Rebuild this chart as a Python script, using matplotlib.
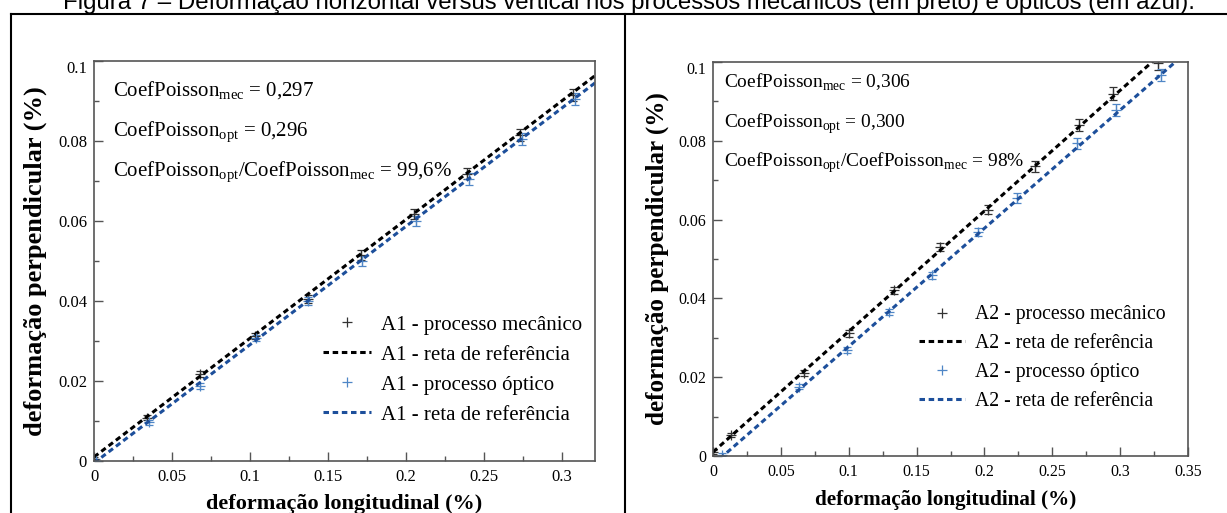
import numpy as np
import matplotlib
matplotlib.use("Agg")
from matplotlib import pyplot as plt, ticker
from matplotlib.lines import Line2D

plt.rcParams['font.family'] = ['Liberation Serif', 'DejaVu Serif']
plt.rcParams['mathtext.fontset'] = 'custom'
plt.rcParams['mathtext.rm'] = 'Liberation Serif'

caption = ("Figura 7 \u2013 Deformação horizontal versus vertical nos processos "
           "mecânicos (em preto) e ópticos (em azul).")

# painel A1
a1_mec_x = [0.0, 0.034, 0.068, 0.103, 0.137, 0.171, 0.205, 0.239, 0.273, 0.307]
a1_mec_y = [0.0005, 0.0108, 0.0218, 0.0312, 0.0405, 0.0515, 0.0618, 0.0718, 0.0815, 0.0915]
a1_mec_e = [0.0004, 0.0006, 0.0007, 0.0008, 0.0009, 0.0012, 0.0013, 0.0014, 0.0015, 0.0016]
a1_opt_x = [0.001, 0.035, 0.068, 0.104, 0.137, 0.172, 0.206, 0.240, 0.274, 0.308]
a1_opt_y = [0.0, 0.0097, 0.0187, 0.0308, 0.0400, 0.0500, 0.0600, 0.0705, 0.0805, 0.0905]
a1_opt_e = [0.0004, 0.0006, 0.0007, 0.0008, 0.0009, 0.0012, 0.0013, 0.0014, 0.0015, 0.0016]
a1_fit_mec = (0.297, 0.0010)
a1_fit_opt = (0.296, -0.0005)
a1_text = [r"CoefPoisson$_{\rm mec}$ = 0,297",
           r"CoefPoisson$_{\rm opt}$ = 0,296",
           r"CoefPoisson$_{\rm opt}$/CoefPoisson$_{\rm mec}$ = 99,6%"]
a1_labels = ["A1 - processo mecânico", "A1 - reta de referência",
             "A1 - processo óptico", "A1 - reta de referência"]

# painel A2
a2_mec_x = [0.0, 0.013, 0.067, 0.100, 0.133, 0.167, 0.2025, 0.2375, 0.270, 0.295, 0.328]
a2_mec_y = [0.001, 0.0053, 0.0211, 0.0311, 0.0421, 0.0530, 0.0625, 0.0735, 0.0840, 0.0920, 0.0997]
a2_mec_e = [0.0004, 0.0005, 0.0007, 0.0008, 0.0009, 0.0010, 0.0012, 0.0013, 0.0015, 0.0016, 0.0017]
a2_opt_x = [0.0068, 0.063, 0.0985, 0.130, 0.161, 0.195, 0.224, 0.268, 0.297, 0.330]
a2_opt_y = [0.0003, 0.0176, 0.0269, 0.0366, 0.0459, 0.0569, 0.0655, 0.0794, 0.0878, 0.0967]
a2_opt_e = [0.0004, 0.0006, 0.0007, 0.0008, 0.0009, 0.0010, 0.0012, 0.0014, 0.0015, 0.0016]
a2_fit_mec = (0.306, 0.0010)
a2_fit_opt = (0.300, -0.0022)
a2_text = [r"CoefPoisson$_{\rm mec}$ = 0,306",
           r"CoefPoisson$_{\rm opt}$ = 0,300",
           r"CoefPoisson$_{\rm opt}$/CoefPoisson$_{\rm mec}$ = 98%"]
a2_labels = ["A2 - processo mecânico", "A2 - reta de referência",
             "A2 - processo óptico", "A2 - reta de referência"]

BLACK_PT = '#333333'
BLUE_LINE = '#1d4f9b'
BLUE_PT = '#4f86c6'
SPINE = '#555555'

W, H = 1227, 513


def panel(rect, xmax, mx, my, me, ox, oy, oe, fit_m, fit_o, texts, labels,
          s, text_s, text_y, text_x, leg_xy, ylab_x, xlab_y, xlab_x):
    ax = fig.add_axes(rect)
    ax.errorbar(mx, my, yerr=me, fmt='none', ecolor=BLACK_PT, elinewidth=0.9,
                capsize=3.2, capthick=0.9)
    ax.errorbar(ox, oy, yerr=oe, fmt='none', ecolor=BLUE_PT, elinewidth=0.9,
                capsize=3.2, capthick=0.9)
    xs = np.array([0.0, xmax])
    ax.plot(mx, my, '+', color=BLACK_PT, ms=7, mew=0.9, label=labels[0])
    ax.plot(xs, fit_m[0] * xs + fit_m[1], color='black', lw=2.2,
            ls=(0, (1.8, 1.2)), label=labels[1])
    ax.plot(ox, oy, '+', color=BLUE_PT, ms=7, mew=0.9, label=labels[2])
    ax.plot(xs, fit_o[0] * xs + fit_o[1], color=BLUE_LINE, lw=2.2,
            ls=(0, (1.8, 1.2)), label=labels[3])

    ax.set_xlim(0, xmax)
    ax.set_ylim(0, 0.1)
    ax.set_xticks(np.arange(0, xmax + 1e-9, 0.05))
    ax.set_yticks(np.arange(0, 0.1001, 0.02))
    ax.xaxis.set_minor_locator(ticker.MultipleLocator(0.025))
    ax.yaxis.set_minor_locator(ticker.MultipleLocator(0.01))
    fmt = ticker.FuncFormatter(lambda v, p: '%g' % round(v, 4))
    ax.xaxis.set_major_formatter(fmt)
    ax.yaxis.set_major_formatter(fmt)
    ax.tick_params(which='both', direction='in', color=SPINE, width=1.0,
                   labelsize=12 * s, top=False, right=False)
    ax.tick_params(which='major', length=6.5)
    ax.tick_params(which='minor', length=3.6)
    ax.tick_params(axis='x', pad=6)
    ax.tick_params(axis='y', pad=5)
    ax.yaxis.get_major_ticks()[-1].label1.set_va('top')
    for sp in ax.spines.values():
        sp.set_color(SPINE)
        sp.set_linewidth(1.2)

    ax.set_xlabel("deformação longitudinal (%)", fontsize=16 * s, fontweight='bold')
    ax.set_ylabel("deformação perpendicular (%)", fontsize=19 * s, fontweight='bold')
    ax.xaxis.label.set_va('center')
    ax.xaxis.set_label_coords(xlab_x, xlab_y)
    ax.yaxis.set_label_coords(ylab_x, 0.5)

    for t, ty in zip(texts, text_y):
        ax.text(text_x, ty, t, transform=ax.transAxes, fontsize=15 * text_s,
                va='baseline', ha='left')

    ax.legend(loc='upper left', bbox_to_anchor=leg_xy, frameon=False,
              fontsize=15 * s, handlelength=2.3, handletextpad=0.5,
              labelspacing=0.5, borderpad=0, borderaxespad=0)
    return ax


fig = plt.figure(figsize=(W / 100, H / 100), dpi=100)

panel([94 / W, (H - 461) / H, 501 / W, 400 / H], 0.321,
      a1_mec_x, a1_mec_y, a1_mec_e, a1_opt_x, a1_opt_y, a1_opt_e,
      a1_fit_mec, a1_fit_opt, a1_text, a1_labels, 1.0, 1.0,
      [0.9125, 0.8125, 0.7125], 0.038, (0.457, 0.365), -0.094, -0.108, 0.5)

panel([713 / W, (H - 456) / H, 475 / W, 394 / H], 0.35,
      a2_mec_x, a2_mec_y, a2_mec_e, a2_opt_x, a2_opt_y, a2_opt_e,
      a2_fit_mec, a2_fit_opt, a2_text, a2_labels, 0.95, 0.93,
      [0.934, 0.834, 0.733], 0.023, (0.434, 0.382), -0.093, -0.112, 0.49)

# moldura da figura
frame = dict(transform=fig.transFigure, color='black', lw=1.5)
fig.add_artist(Line2D([11 / W, 1.0], [1 - 14 / H, 1 - 14 / H], **frame))
fig.add_artist(Line2D([11 / W, 11 / W], [0, 1 - 14 / H], **frame))
fig.add_artist(Line2D([625 / W, 625 / W], [0, 1 - 14 / H], **frame))

cap = fig.text(63 / W, 1 - 9 / H, caption, family=['Liberation Sans', 'DejaVu Sans'],
               fontsize=14, va='baseline', ha='left')
fig.canvas.draw()
wpx = cap.get_window_extent().width
cap.set_fontsize(14 * 1140 / wpx)

fig.savefig("out.png", dpi=100)
